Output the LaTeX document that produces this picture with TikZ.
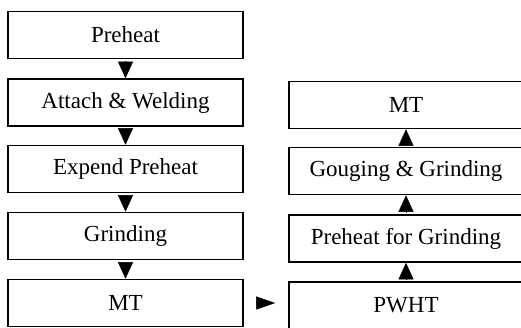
\documentclass[tikz,border=0pt]{standalone}
\usepackage{fontspec}
\setmainfont{Liberation Serif}
\usetikzlibrary{arrows.meta}
\begin{document}
\begin{tikzpicture}[x=1pt,y=-1pt,
  box/.style={draw, line width=1.6pt, minimum height=47pt, inner sep=0pt,
    font=\fontsize{23}{27}\selectfont},
  lbox/.style={box, minimum width=235pt},
  rbox/.style={box, minimum width=234pt},
  vflow/.style={line width=0.4pt, shorten <=1.5pt, -{Triangle[width=15pt,length=16.5pt]}},
  hflow/.style={line width=0.4pt, shorten <=15pt, shorten >=13pt, -{Triangle[width=13pt,length=19pt]}}
]
\useasboundingbox (0,0) rectangle (521,327);
\node[lbox] (l1) at (125.5,35) {Preheat};
\node[lbox] (l2) at (125.5,102.5) {Attach \& Welding};
\node[lbox] (l3) at (125.5,169) {Expend Preheat};
\node[lbox] (l4) at (125.5,236) {Grinding};
\node[lbox] (l5) at (125.5,303) {MT};
\node[rbox] (r4) at (406,105) {MT};
\node[rbox] (r3) at (406,171) {Gouging \& Grinding};
\node[rbox] (r2) at (406,238.5) {Preheat for Grinding};
\node[rbox] (r1) at (406,305.5) {PWHT};
\draw[vflow] (l1.south) -- (l2.north);
\draw[vflow] (l2.south) -- (l3.north);
\draw[vflow] (l3.south) -- (l4.north);
\draw[vflow] (l4.south) -- (l5.north);
\draw[hflow] (l5.east) -- (r1.west |- l5.east);
\draw[vflow] (r1.north) -- (r2.south);
\draw[vflow] (r2.north) -- (r3.south);
\draw[vflow] (r3.north) -- (r4.south);
\end{tikzpicture}
\end{document}
